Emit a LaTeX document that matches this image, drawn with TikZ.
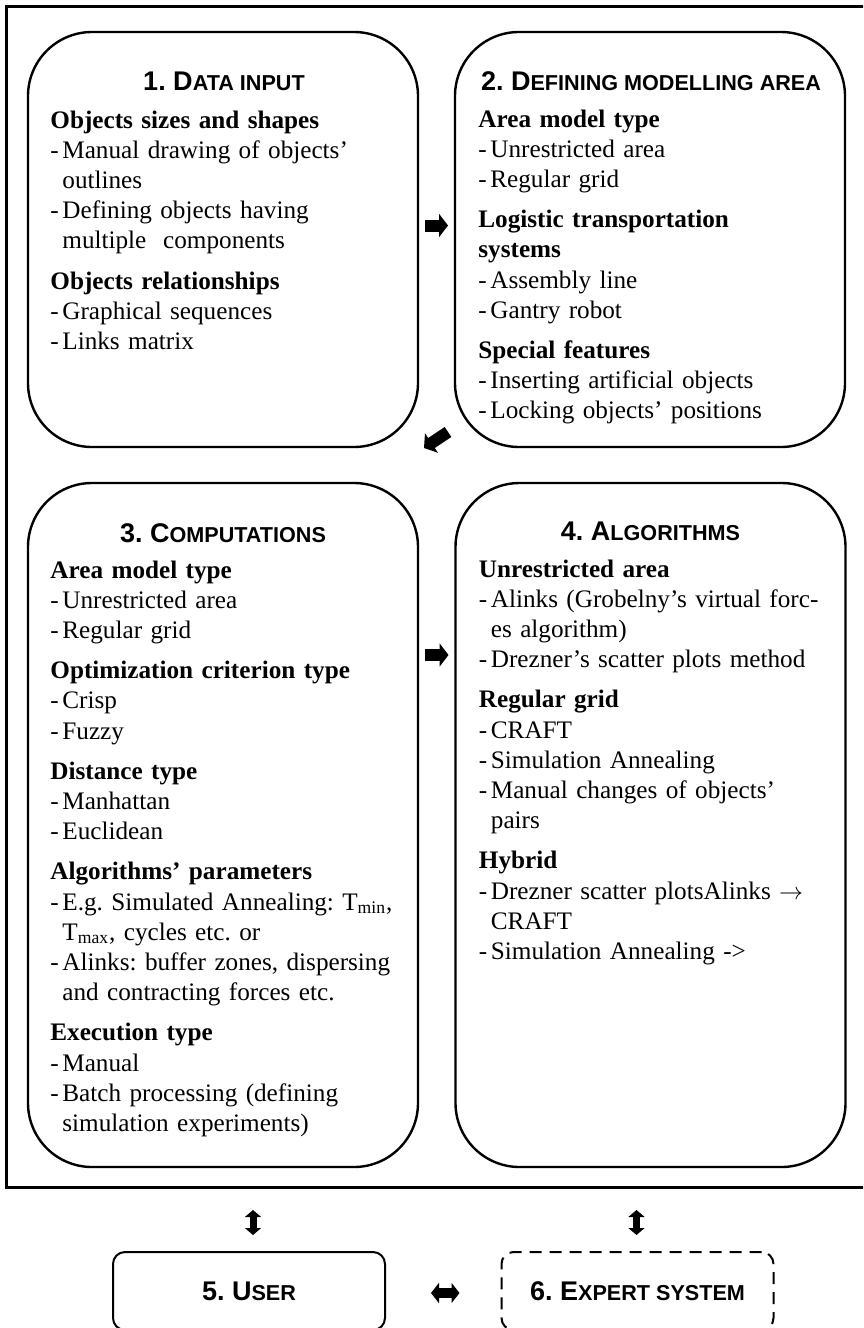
\documentclass[tikz,border=0pt]{standalone}
\usepackage{fontspec}
\setmainfont{Liberation Serif}
\newfontfamily\titlefont{Liberation Sans}
\usetikzlibrary{arrows.meta, calc}
\frenchspacing

\newcommand{\sctitle}[2]{{\fontsize{13.5}{15}\selectfont #1}{\fontsize{10.8}{12}\selectfont\MakeUppercase{#2}}}
\newcommand{\topsect}[1]{{\bfseries #1}\par}
\newcommand{\sect}[1]{\vspace{5pt}{\bfseries #1}\par}
\newcommand{\itm}[1]{\hangindent=6pt\hangafter=1\noindent\makebox[6pt][l]{-}#1\par}

\begin{document}
\begin{tikzpicture}[x=0.5pt, y=-0.5pt,
  panel/.style={draw, line width=1.2pt, rounded corners=32pt, minimum width=195pt, inner sep=0pt, outer sep=0pt},
  smallbox/.style={draw, line width=1pt, rounded corners=6pt, minimum width=136pt, minimum height=39pt, inner sep=0pt, outer sep=0pt, font=\titlefont\bfseries},
  ttl/.style={anchor=base, inner sep=0pt, font=\titlefont\bfseries},
  txt/.style={anchor=base west, inner sep=0pt, text width=182pt, align=left, font=\fontsize{12.6}{15.1}\selectfont},
  fatarrow/.style={line width=6pt, -{Triangle[length=4.5pt,width=11.5pt]}},
  udarrow/.style={line width=3.5pt, {Triangle[length=3.5pt,width=8pt]}-{Triangle[length=3.5pt,width=8pt]}},
  lrarrow/.style={line width=5pt, {Triangle[length=4pt,width=10pt]}-{Triangle[length=4pt,width=10pt]}}
]
\useasboundingbox (0,0) rectangle (863,1328);
\clip (0,0) rectangle (863,1328);
\fill[white] (0,0) rectangle (863,1328);

% outer frame
\node[draw, line width=1.5pt, minimum width=437pt, minimum height=590.5pt, inner sep=0pt, outer sep=0pt] (frame) at (443,596.5) {};

% panels
\node[panel, minimum height=207.5pt] (b1) at (223,239.5) {};
\node[panel, minimum height=207.5pt] (b2) at (650,239.5) {};
\node[panel, minimum height=342pt] (b3) at (223,825) {};
\node[panel, minimum height=342pt] (b4) at (650.5,825) {};

\node[ttl] (t1) at ($(b1.north)+(1,58)$) {\sctitle{1. D}{ata input}};
\node[ttl] (t2) at ($(b2.north)+(1,58)$) {\sctitle{2. D}{efining modelling area}};
\node[ttl] (t3) at ($(b3.north)+(0,59)$) {\sctitle{3. C}{omputations}};
\node[ttl] (t4) at ($(b4.north)+(0,57)$) {\sctitle{4. A}{lgorithms}};

\node[txt] (c1) at ($(b1.north west)+(22,96)$) {%
\topsect{Objects sizes and shapes}
\itm{Manual drawing of objects'\newline outlines}
\itm{Defining objects having\newline multiple\ \ components}
\sect{Objects relationships}
\itm{Graphical sequences}
\itm{Links matrix}};

\node[txt] (c2) at ($(b2.north west)+(23,95)$) {%
\topsect{Area model type}
\itm{Unrestricted area}
\itm{Regular grid}
\sect{Logistic transportation\newline systems}
\itm{Assembly line}
\itm{Gantry robot}
\sect{Special features}
\itm{Inserting artificial objects}
\itm{Locking objects' positions}};

\node[txt] (c3) at ($(b3.north west)+(22,95)$) {%
\topsect{Area model type}
\itm{Unrestricted area}
\itm{Regular grid}
\sect{Optimization criterion type}
\itm{Crisp}
\itm{Fuzzy}
\sect{Distance type}
\itm{Manhattan}
\itm{Euclidean}
\sect{Algorithms' parameters}
\itm{E.g. Simulated Annealing: T\textsubscript{min},\newline T\textsubscript{max}, cycles etc. or}
\itm{Alinks: buffer zones, dispersing\newline and contracting forces etc.}
\sect{Execution type}
\itm{Manual}
\itm{Batch processing (defining\newline simulation experiments)}};

\node[txt] (c4) at ($(b4.north west)+(23,94)$) {%
\topsect{Unrestricted area}
\itm{Alinks (Grobelny's virtual forc-\newline es algorithm)}
\itm{Drezner's scatter plots method}
\sect{Regular grid}
\itm{CRAFT}
\itm{Simulation Annealing}
\itm{Manual changes of objects'\newline pairs}
\sect{Hybrid}
\itm{Drezner scatter plotsAlinks $\rightarrow$\newline CRAFT}
\itm{Simulation Annealing ->}};

% user and expert system
\node[smallbox] (user) at (249,1291) {\sctitle{5. U}{ser}};
\node[smallbox, dash pattern=on 6pt off 4pt] (expert) at (637.5,1291) {\sctitle{6. E}{xpert system}};

% arrows
\draw[fatarrow] ($(b1.east)+(7,-14)$) -- ($(b2.west)+(-7,-14)$);
\draw[fatarrow] ($(b2.south west)+(-7,-15)$) -- ($(b2.south west)+(-31,1)$);
\draw[fatarrow] ($(b3.east)+(7,-170)$) -- ($(b4.west)+(-7,-170)$);
\draw[udarrow] ($(frame.south -| user.north)+(4,23)$) -- ($(user.north)+(4,-17)$);
\draw[udarrow] ($(frame.south -| expert.north)+(-1,23)$) -- ($(expert.north)+(-1,-17)$);
\draw[lrarrow] ($(user.east)+(46,2)$) -- ($(expert.west)+(-42,2)$);
\end{tikzpicture}
\end{document}
